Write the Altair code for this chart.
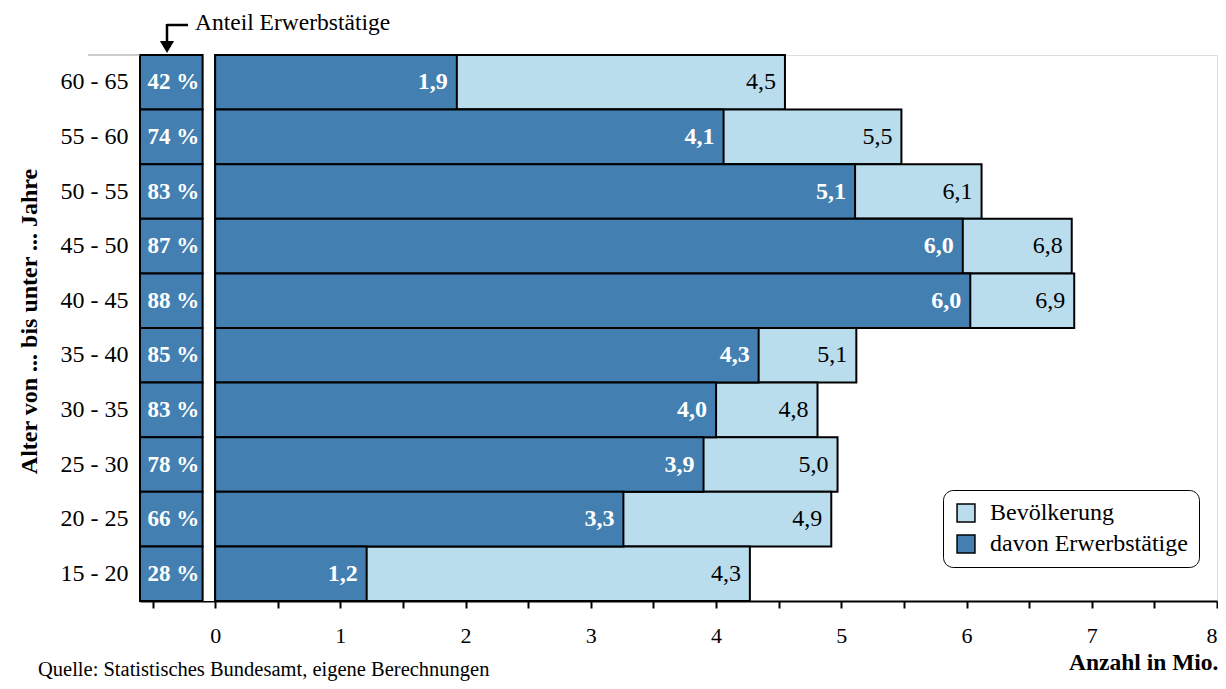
import altair as alt
import pandas as pd

ages = ["60 - 65", "55 - 60", "50 - 55", "45 - 50", "40 - 45",
        "35 - 40", "30 - 35", "25 - 30", "20 - 25", "15 - 20"]
bevoelkerung = [4.55, 5.48, 6.12, 6.84, 6.86, 5.12, 4.81, 4.97, 4.92, 4.27]
erwerbstaetige = [1.93, 4.06, 5.11, 5.97, 6.03, 4.34, 4.00, 3.90, 3.26, 1.21]
anteil = [42, 74, 83, 87, 88, 85, 83, 78, 66, 28]
series = ["Bevölkerung", "davon Erwerbstätige"]
x_ticks = [-0.5, 0, 0.5, 1, 1.5, 2, 2.5, 3, 3.5, 4, 4.5, 5, 5.5, 6, 6.5, 7, 7.5, 8]

LIGHT = "#BADDED"
DARK = "#437FB0"
BEIGE = "#F6EDD8"
FONT = "Liberation Serif"
W, H = 1077, 546

rows = []
for a, b, e, p in zip(ages, bevoelkerung, erwerbstaetige, anteil):
    rows.append({"age": a, "series": series[0], "value": b, "pct": p})
    rows.append({"age": a, "series": series[1], "value": e, "pct": p})
df = pd.DataFrame(rows)
pct_df = pd.DataFrame({"age": ages, "pct": anteil, "start": -0.6, "end": -0.1})

xscale = alt.Scale(domain=[-0.6, 8], nice=False, zero=False)
yscale = alt.Scale(domain=ages, paddingInner=0, paddingOuter=0)

x_axis = alt.Axis(values=x_ticks,
                  labelExpr="datum.value >= 0 && datum.value % 1 == 0 ? format(datum.value, 'd') : ''",
                  title="Anzahl in Mio.", titleFont=FONT, titleFontSize=23.5, titleFontWeight="bold",
                  titleColor="black", titleAnchor="end", titleAlign="right", titleBaseline="alphabetic",
                  titleX=W + 1, titleY=68,
                  labelFont=FONT, labelFontSize=22, labelColor="black", labelPadding=17,
                  tickColor="black", tickSize=7, tickWidth=2, domainColor="black", domainWidth=2,
                  grid=False)
y_axis = alt.Axis(title="Alter von ... bis unter ... Jahre", titleFont=FONT, titleFontSize=24,
                  titleFontWeight="bold", titleColor="black", titlePadding=19, titleY=266,
                  labelFont=FONT, labelFontSize=24, labelColor="black", labelPadding=12,
                  ticks=False, domain=False, grid=False)

base = alt.Chart(df)

light_bars = base.transform_filter(alt.datum.series == series[0]).mark_bar(
    stroke="black", strokeWidth=2).encode(
    x=alt.X("value:Q", scale=xscale, axis=x_axis),
    x2=alt.datum(0),
    y=alt.Y("age:N", sort=ages, scale=yscale, axis=y_axis),
    color=alt.Color("series:N", scale=alt.Scale(domain=series, range=[LIGHT, DARK]),
                    legend=alt.Legend(title=None, orient="none", legendX=803, legendY=435,
                                      labelFont=FONT, labelFontSize=24, labelColor="black",
                                      labelLimit=400,
                                      symbolType="square", symbolSize=320, symbolStrokeColor="black",
                                      symbolStrokeWidth=1.5, rowPadding=7, labelOffset=12,
                                      fillColor="white", strokeColor="black", cornerRadius=10,
                                      padding=11)),
)
dark_bars = base.transform_filter(alt.datum.series == series[1]).mark_bar(
    stroke="black", strokeWidth=2).encode(
    x=alt.X("value:Q", scale=xscale),
    x2=alt.datum(0),
    y=alt.Y("age:N", sort=ages, scale=yscale),
    color=alt.Color("series:N"),
)

label_calc = "replace(format(datum.value, '.1f'), '.', ',')"
light_text = base.transform_filter(alt.datum.series == series[0]).transform_calculate(
    lab=label_calc).mark_text(align="right", baseline="middle", dx=-9, font=FONT,
                              fontSize=24, color="black").encode(
    x=alt.X("value:Q", scale=xscale), y=alt.Y("age:N", sort=ages, scale=yscale), text="lab:N")
dark_text = base.transform_filter(alt.datum.series == series[1]).transform_calculate(
    lab=label_calc).mark_text(align="right", baseline="middle", dx=-9, font=FONT,
                              fontSize=24, fontWeight="bold", color="white").encode(
    x=alt.X("value:Q", scale=xscale), y=alt.Y("age:N", sort=ages, scale=yscale), text="lab:N")

white_strip = alt.Chart(pd.DataFrame({"a": [-0.1], "b": [0]})).mark_rect(color="white").encode(
    x=alt.X("a:Q", scale=xscale), x2="b:Q", y=alt.value(0), y2=alt.value(H))

pct_boxes = alt.Chart(pct_df).mark_bar(color=DARK, stroke="black", strokeWidth=2).encode(
    x=alt.X("start:Q", scale=xscale), x2="end:Q", y=alt.Y("age:N", sort=ages, scale=yscale))
pct_text = alt.Chart(pct_df).transform_calculate(lab="datum.pct + ' %'").transform_calculate(
    mid="(datum.start + datum.end) / 2").mark_text(
    align="center", baseline="middle", dx=2, font=FONT, fontSize=23, fontWeight="bold",
    color="white").encode(
    x=alt.X("mid:Q", scale=xscale), y=alt.Y("age:N", sort=ages, scale=yscale), text="lab:N")

one = pd.DataFrame({"k": [0]})
top_line = alt.Chart(one).mark_rule(color="#999999", strokeWidth=1).encode(
    x=alt.value(-52), x2=alt.value(0), y=alt.value(0))
arrow_h = alt.Chart(one).mark_rule(color="black", strokeWidth=2.5).encode(
    x=alt.value(27), x2=alt.value(48), y=alt.value(-30))
arrow_v = alt.Chart(one).mark_rule(color="black", strokeWidth=2.5).encode(
    x=alt.value(27), y=alt.value(-31), y2=alt.value(-14))
arrow_head = alt.Chart(one).mark_point(shape="triangle-down", filled=True, color="black",
                                       size=200, opacity=1).encode(
    x=alt.value(27), y=alt.value(-8))
anteil_text = alt.Chart(one).mark_text(text="Anteil Erwerbstätige", align="left",
                                       baseline="alphabetic", font=FONT, fontSize=23.5,
                                       color="black").encode(
    x=alt.value(55), y=alt.value(-25))
source_text = alt.Chart(one).mark_text(text="Quelle: Statistisches Bundesamt, eigene Berechnungen",
                                       align="left", baseline="alphabetic", font=FONT,
                                       fontSize=20.5, color="black").encode(
    x=alt.value(-102), y=alt.value(621))

chart = alt.layer(
    white_strip, light_bars, dark_bars, light_text, dark_text, pct_boxes, pct_text,
    top_line, arrow_h, arrow_v, arrow_head, anteil_text, source_text
).properties(
    width=W, height=H,
    autosize=alt.AutoSizeParams(type="none"),
    padding={"left": 132, "top": 47, "right": 1, "bottom": 80},
).configure_view(
    fill=BEIGE, stroke="black", strokeWidth=2
).configure(background="white")

chart.save("out.html", embed_options={"renderer": "svg", "actions": False})
